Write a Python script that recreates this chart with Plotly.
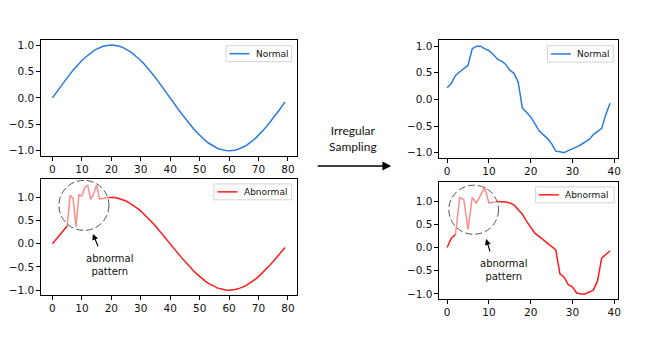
import plotly.graph_objects as go

# regular sampling, 80 steps
x_long = list(range(80))
normal_long = [
    0.000, 0.078, 0.156, 0.233, 0.309, 0.383, 0.454, 0.522, 0.588, 0.649,
    0.707, 0.760, 0.809, 0.853, 0.891, 0.924, 0.951, 0.972, 0.988, 0.997,
    1.000, 0.997, 0.988, 0.972, 0.951, 0.924, 0.891, 0.853, 0.809, 0.760,
    0.707, 0.649, 0.588, 0.522, 0.454, 0.383, 0.309, 0.233, 0.156, 0.078,
    0.000, -0.078, -0.156, -0.233, -0.309, -0.383, -0.454, -0.522, -0.588, -0.649,
    -0.707, -0.760, -0.809, -0.853, -0.891, -0.924, -0.951, -0.972, -0.988, -0.997,
    -1.000, -0.997, -0.988, -0.972, -0.951, -0.924, -0.891, -0.853, -0.809, -0.760,
    -0.707, -0.649, -0.588, -0.522, -0.454, -0.383, -0.309, -0.233, -0.156, -0.078,
]
abnormal_long = list(normal_long)
abnormal_long[6:19] = [1.05, 0.98, 0.37, 1.06, 1.03, 1.22, 1.26, 0.96, 1.08, 1.27, 0.97, 0.98, 0.99]
long_noise = (5, 19)  # first / last index of the abnormal pattern

# irregular sampling, 40 steps
x_short = list(range(40))
normal_short = [
    0.22, 0.30, 0.45, 0.52, 0.58, 0.64, 0.95, 1.00, 1.00, 0.95,
    0.92, 0.85, 0.76, 0.72, 0.66, 0.55, 0.49, 0.33, -0.16, -0.24,
    -0.33, -0.45, -0.59, -0.66, -0.73, -0.83, -0.97, -0.98, -1.00, -0.96,
    -0.93, -0.89, -0.85, -0.80, -0.75, -0.66, -0.60, -0.54, -0.28, -0.07,
]
abnormal_short = [
    0.00, 0.20, 0.28, 1.08, 1.03, 0.39, 1.08, 0.96, 1.13, 1.30,
    0.96, 0.98, 0.99, 0.99, 0.98, 0.96, 0.92, 0.82, 0.72, 0.57,
    0.43, 0.31, 0.24, 0.17, 0.10, 0.03, -0.05, -0.57, -0.64, -0.80,
    -0.85, -0.98, -1.00, -1.00, -0.96, -0.92, -0.72, -0.23, -0.15, -0.07,
]
short_noise = (2, 12)

BLUE = "#2a7ddc"
RED = "#ff1a1a"
LIGHT = "rgba(255,0,0,0.45)"
W, H = 661, 338


def split(vals, lo, hi):
    main = [v if (i <= lo or i >= hi) else None for i, v in enumerate(vals)]
    noise = [v if lo <= i <= hi else None for i, v in enumerate(vals)]
    return main, noise


def px(x, y):
    # pixel position on the page -> paper coordinates
    return x / W, 1 - y / H


fig = go.Figure()
fig.add_trace(go.Scatter(x=x_long, y=normal_long, mode="lines", name="Normal",
                         line=dict(color=BLUE, width=1.5), xaxis="x", yaxis="y"))
main, noise = split(abnormal_long, *long_noise)
fig.add_trace(go.Scatter(x=x_long, y=main, mode="lines", name="Abnormal",
                         line=dict(color=RED, width=1.5), xaxis="x2", yaxis="y2"))
fig.add_trace(go.Scatter(x=x_long, y=noise, mode="lines",
                         line=dict(color=LIGHT, width=1.5), xaxis="x2", yaxis="y2"))
fig.add_trace(go.Scatter(x=x_short, y=normal_short, mode="lines", name="Normal",
                         line=dict(color=BLUE, width=1.5), xaxis="x3", yaxis="y3"))
main, noise = split(abnormal_short, *short_noise)
fig.add_trace(go.Scatter(x=x_short, y=main, mode="lines", name="Abnormal",
                         line=dict(color=RED, width=1.5), xaxis="x4", yaxis="y4"))
fig.add_trace(go.Scatter(x=x_short, y=noise, mode="lines",
                         line=dict(color=LIGHT, width=1.5), xaxis="x4", yaxis="y4"))

tick_font = dict(family="DejaVu Sans", size=10.5, color="#111")
ytick = dict(tickvals=[-1, -0.5, 0, 0.5, 1], ticktext=["−1.0", "−0.5", "0.0", "0.5", "1.0"])


def ax(domain, rng, **kw):
    return dict(domain=domain, range=rng, showgrid=False, zeroline=False, showline=True,
                mirror=True, linecolor="black", linewidth=1, ticks="outside", ticklen=3.5,
                tickcolor="black", tickfont=tick_font, **kw)


xl = [41 / W, 298 / W]
xr = [441 / W, 621 / W]
long_ticks = dict(tickvals=list(range(0, 81, 10)))
short_ticks = dict(tickvals=list(range(0, 41, 10)))

fig.update_layout(
    width=W, height=H, margin=dict(l=0, r=0, t=0, b=0),
    paper_bgcolor="white", plot_bgcolor="white", showlegend=False,
    xaxis=ax(xl, [-3.95, 82.95], anchor="y", **long_ticks),
    yaxis=ax([1 - 156 / H, 1 - 39 / H], [-1.1, 1.1], anchor="x", **ytick),
    xaxis2=ax(xl, [-3.95, 82.95], anchor="y2", **long_ticks),
    yaxis2=ax([1 - 296 / H, 1 - 179 / H], [-1.11, 1.40], anchor="x2", **ytick),
    xaxis3=ax(xr, [-1.95, 40.95], anchor="y3", **short_ticks),
    yaxis3=ax([1 - 158 / H, 1 - 39 / H], [-1.1, 1.12], anchor="x3", **ytick),
    xaxis4=ax(xr, [-1.95, 40.95], anchor="y4", **short_ticks),
    yaxis4=ax([1 - 300 / H, 1 - 182 / H], [-1.115, 1.415], anchor="x4", **ytick),
)

# compact matplotlib-style legends: box, line sample, label
for (bx0, by0, bx1, by1), color, label in [((227, 45, 293, 61), BLUE, "Normal"),
                                           ((215, 184, 293, 200), RED, "Abnormal"),
                                           ((550, 45, 616, 61.5), BLUE, "Normal"),
                                           ((538, 187, 617, 203), RED, "Abnormal")]:
    x0, y0 = px(bx0, by0)
    x1, y1 = px(bx1, by1)
    fig.add_shape(type="rect", xref="paper", yref="paper", x0=x0, x1=x1, y0=y1, y1=y0,
                  line=dict(color="#d4d4d4", width=1), fillcolor="rgba(255,255,255,0.85)")
    ym = (by0 + by1) / 2
    lx0, ly = px(bx0 + 3.5, ym)
    lx1, _ = px(bx0 + 23.5, ym)
    fig.add_shape(type="line", xref="paper", yref="paper", x0=lx0, x1=lx1, y0=ly, y1=ly,
                  line=dict(color=color, width=1.5))
    tx, ty = px(bx0 + 29, ym)
    fig.add_annotation(x=tx, y=ty, xref="paper", yref="paper", text=label, showarrow=False,
                       xanchor="left", yanchor="middle", borderpad=0,
                       font=dict(family="DejaVu Sans", size=9, color="#111"))

# dashed circles round the abnormal pattern
for xref, yref, cx, cy, rx, ry in [("x2", "y2", 10.7, 0.83, 8.5, 0.54),
                                   ("x4", "y4", 6.35, 0.815, 5.95, 0.53)]:
    fig.add_shape(type="circle", xref=xref, yref=yref, x0=cx - rx, x1=cx + rx,
                  y0=cy - ry, y1=cy + ry, line=dict(color="#555", width=1, dash="7px,3px"))

annot_font = dict(family="DejaVu Sans", size=10, color="#111")
for hx, hy, tx, ty, tipx, tipy in [(93.3, 234.3, 5.7, 13.7, 110, 265.5),
                                   (488.3, 239.3, 4.4, 14, 506, 271)]:
    x, y = px(hx, hy)
    fig.add_annotation(x=x, y=y, xref="paper", yref="paper", text="",
                       showarrow=True, ax=tx, ay=ty, axref="pixel", ayref="pixel",
                       arrowhead=2, arrowsize=1, arrowwidth=1.2, arrowcolor="black")
    x, y = px(tipx, tipy)
    fig.add_annotation(x=x, y=y, xref="paper", yref="paper", xanchor="center", yanchor="middle",
                       text="abnormal<br>pattern", showarrow=False, font=annot_font)

x, y = px(393, 166)
fig.add_annotation(x=x, y=y, xref="paper", yref="paper", text="",
                   showarrow=True, ax=-75, ay=0, axref="pixel", ayref="pixel",
                   arrowhead=2, arrowsize=1.1, arrowwidth=1.6, arrowcolor="black")
x, y = px(355, 138.5)
fig.add_annotation(x=x, y=y, xref="paper", yref="paper", xanchor="center", yanchor="middle",
                   text="Irregular<br>Sampling", showarrow=False,
                   font=dict(family="Lato", size=12, color="#111"))

# the page's default body margin would shift the figure by 8px
fig.write_html("out.html", config={"displayModeBar": False},
               post_script="document.body.style.margin='0';")
